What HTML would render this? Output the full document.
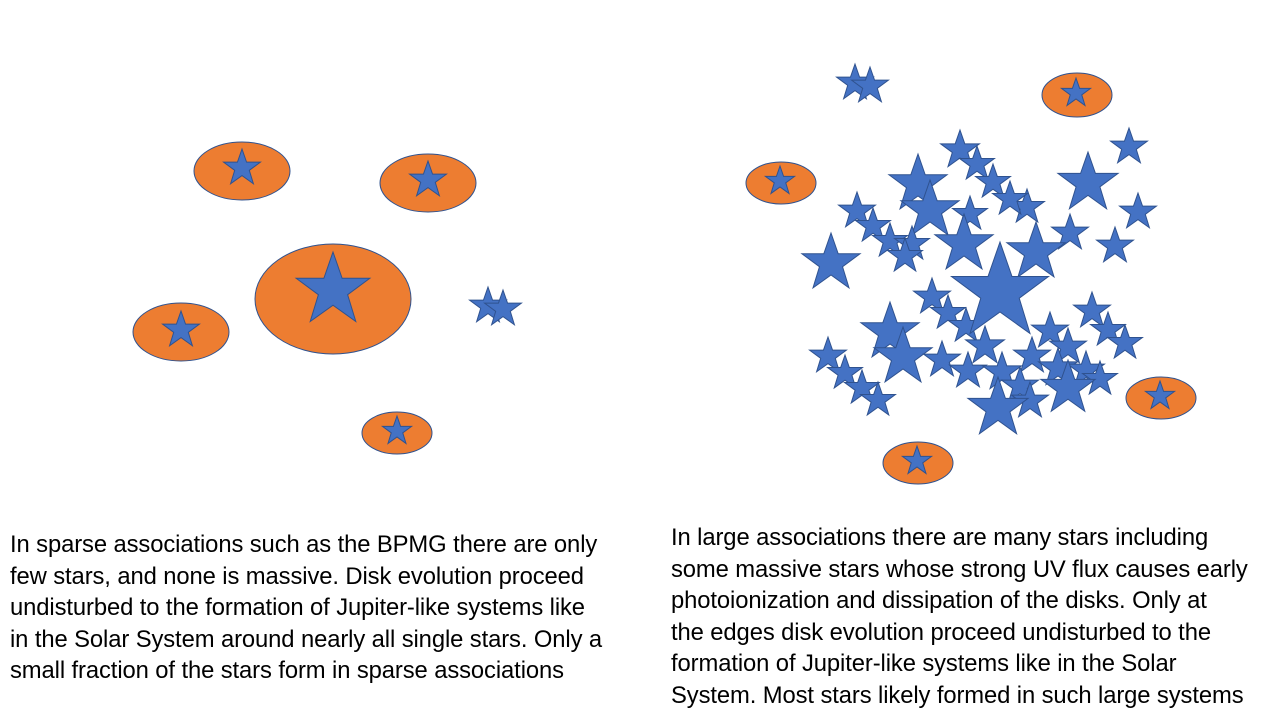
<!DOCTYPE html>
<html><head><meta charset="utf-8"><style>
body{margin:0;width:1280px;height:720px;background:#fff;overflow:hidden;position:relative;font-family:"Liberation Sans",sans-serif}
svg{position:absolute;left:0;top:0}
.t{position:absolute;font-size:23.8px;line-height:31.5px;color:#000;white-space:nowrap;letter-spacing:-0.1px}
</style></head><body>
<svg width="1280" height="720">
<defs><path id="s" d="M0,-1 L0.24,-0.309 L0.97,-0.309 L0.385,0.125 L0.6,0.83 L0,0.40 L-0.6,0.83 L-0.385,0.125 L-0.97,-0.309 L-0.24,-0.309Z" fill="#4472c4" stroke="#2f528f" stroke-width="1" vector-effect="non-scaling-stroke"/></defs>
<g fill="#ed7d31" stroke="#2f528f" stroke-width="1">
<ellipse cx="242" cy="171" rx="48" ry="29"/>
<ellipse cx="428" cy="183" rx="48" ry="29"/>
<ellipse cx="333" cy="299" rx="78" ry="55"/>
<ellipse cx="181" cy="332" rx="48" ry="29"/>
<ellipse cx="397" cy="433" rx="35" ry="21"/>
<ellipse cx="1077" cy="95" rx="35" ry="22"/>
<ellipse cx="781" cy="183" rx="35" ry="21"/>
<ellipse cx="1161" cy="398" rx="35" ry="21"/>
<ellipse cx="918" cy="463" rx="35" ry="21"/>
</g>
<use href="#s" transform="translate(242,168) scale(19)"/>
<use href="#s" transform="translate(428,180) scale(19)"/>
<use href="#s" transform="translate(333,290) scale(38)"/>
<use href="#s" transform="translate(181,330) scale(19)"/>
<use href="#s" transform="translate(397,431) scale(15)"/>
<use href="#s" transform="translate(488,306) scale(19)"/>
<use href="#s" transform="translate(503,309) scale(19)"/>
<use href="#s" transform="translate(1076,93) scale(15)"/>
<use href="#s" transform="translate(780,181) scale(15)"/>
<use href="#s" transform="translate(1160,396) scale(15)"/>
<use href="#s" transform="translate(917,461) scale(15)"/>
<use href="#s" transform="translate(855,83) scale(19)"/>
<use href="#s" transform="translate(870,86) scale(19)"/>
<use href="#s" transform="translate(1129,147) scale(19)"/>
<use href="#s" transform="translate(1138,212) scale(19)"/>
<use href="#s" transform="translate(1115,246) scale(19)"/>
<use href="#s" transform="translate(1088,183) scale(31)"/>
<use href="#s" transform="translate(1070,233) scale(19)"/>
<use href="#s" transform="translate(960,150) scale(20)"/>
<use href="#s" transform="translate(977,164) scale(18)"/>
<use href="#s" transform="translate(993,182) scale(18)"/>
<use href="#s" transform="translate(1027,207) scale(18)"/>
<use href="#s" transform="translate(1010,199) scale(18)"/>
<use href="#s" transform="translate(970,214) scale(18)"/>
<use href="#s" transform="translate(918,184) scale(30)"/>
<use href="#s" transform="translate(930,210) scale(30)"/>
<use href="#s" transform="translate(857,211) scale(19)"/>
<use href="#s" transform="translate(873,226) scale(18)"/>
<use href="#s" transform="translate(890,241) scale(18)"/>
<use href="#s" transform="translate(912,244) scale(18)"/>
<use href="#s" transform="translate(905,256) scale(18)"/>
<use href="#s" transform="translate(831,263) scale(30)"/>
<use href="#s" transform="translate(964,244) scale(30)"/>
<use href="#s" transform="translate(1036,252) scale(30)"/>
<use href="#s" transform="translate(932,297) scale(19)"/>
<use href="#s" transform="translate(948,313) scale(18)"/>
<use href="#s" transform="translate(966,326) scale(18)"/>
<use href="#s" transform="translate(890,332) scale(30)"/>
<use href="#s" transform="translate(903,357) scale(30)"/>
<use href="#s" transform="translate(828,356) scale(19)"/>
<use href="#s" transform="translate(845,373) scale(18)"/>
<use href="#s" transform="translate(862,388) scale(18)"/>
<use href="#s" transform="translate(878,400) scale(18)"/>
<use href="#s" transform="translate(942,360) scale(19)"/>
<use href="#s" transform="translate(1092,311) scale(19)"/>
<use href="#s" transform="translate(1108,330) scale(18)"/>
<use href="#s" transform="translate(1125,343) scale(18)"/>
<use href="#s" transform="translate(1050,331) scale(19)"/>
<use href="#s" transform="translate(1068,347) scale(19)"/>
<use href="#s" transform="translate(1032,356) scale(19)"/>
<use href="#s" transform="translate(1058,368) scale(20)"/>
<use href="#s" transform="translate(1086,370) scale(19)"/>
<use href="#s" transform="translate(1100,379) scale(18)"/>
<use href="#s" transform="translate(1068,388) scale(28)"/>
<use href="#s" transform="translate(985,346) scale(20)"/>
<use href="#s" transform="translate(968,371) scale(19)"/>
<use href="#s" transform="translate(1002,372) scale(20)"/>
<use href="#s" transform="translate(1020,386) scale(19)"/>
<use href="#s" transform="translate(1030,401) scale(19)"/>
<use href="#s" transform="translate(998,408) scale(31)"/>
<use href="#s" transform="translate(1000,292) scale(50)"/>
</svg>
<div class="t" style="left:10px;top:529px">In sparse associations such as the BPMG there are only<br>few stars, and none is massive. Disk evolution proceed<br>undisturbed to the formation of Jupiter-like systems like<br>in the Solar System around nearly all single stars. Only a<br>small fraction of the stars form in sparse associations</div>
<div class="t" style="left:671px;top:522px">In large associations there are many stars including<br>some massive stars whose strong UV flux causes early<br>photoionization and dissipation of the disks. Only at<br>the edges disk evolution proceed undisturbed to the<br>formation of Jupiter-like systems like in the Solar<br>System. Most stars likely formed in such large systems</div>
</body></html>
